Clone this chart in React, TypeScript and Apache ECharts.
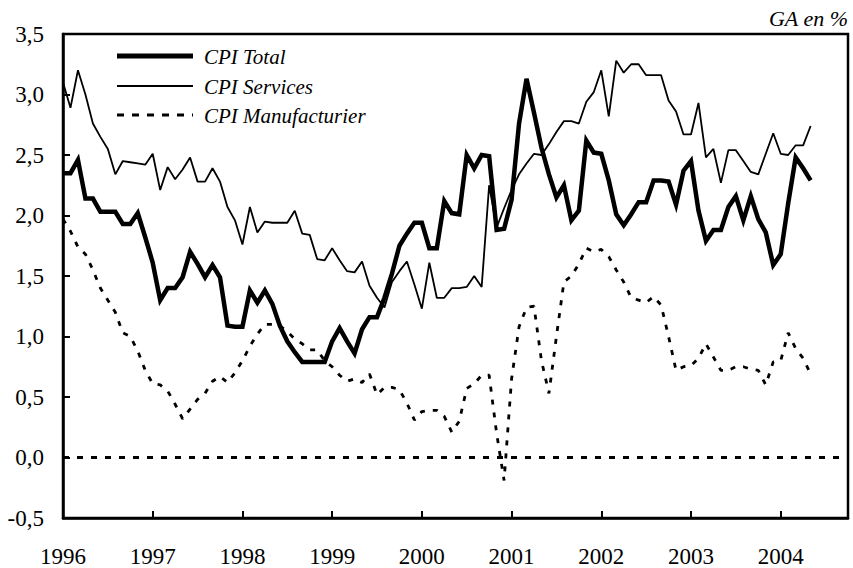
import React, { useEffect, useRef } from "react";
import * as echarts from "echarts";

const YEARS = ["1996", "1997", "1998", "1999", "2000", "2001", "2002", "2003", "2004"];
const MONTHS_SHOWN = 106; // Jan 1996 .. Oct 2004 (axis extent)

const CPI_TOTAL = [
  2.35, 2.35, 2.46, 2.14, 2.14, 2.03, 2.03, 2.03, 1.93, 1.93, 2.02, 1.82,
  1.61, 1.30, 1.40, 1.40, 1.49, 1.70, 1.60, 1.49, 1.59, 1.49, 1.09, 1.08,
  1.08, 1.38, 1.28, 1.38, 1.27, 1.09, 0.96, 0.87, 0.79, 0.79, 0.79, 0.79,
  0.96, 1.07, 0.96, 0.86, 1.06, 1.16, 1.16, 1.32, 1.52, 1.75, 1.85, 1.94,
  1.94, 1.73, 1.73, 2.12, 2.02, 2.01, 2.50, 2.39, 2.50, 2.49, 1.88, 1.89,
  2.13, 2.76, 3.13, 2.85, 2.56, 2.34, 2.15, 2.25, 1.96, 2.04, 2.62, 2.52,
  2.51, 2.29, 2.01, 1.92, 2.01, 2.11, 2.11, 2.29, 2.29, 2.28, 2.09, 2.37,
  2.45, 2.04, 1.79, 1.88, 1.88, 2.07, 2.16, 1.96, 2.16, 1.97, 1.86, 1.59,
  1.68, 2.10, 2.48, 2.39, 2.29,
];

const CPI_SERVICES = [
  3.10, 2.89, 3.20, 3.00, 2.76, 2.65, 2.55, 2.34, 2.45, 2.44, 2.43, 2.42,
  2.51, 2.21, 2.40, 2.30, 2.38, 2.48, 2.28, 2.28, 2.39, 2.28, 2.07, 1.96,
  1.76, 2.07, 1.86, 1.95, 1.94, 1.94, 1.94, 2.04, 1.85, 1.84, 1.64, 1.63,
  1.73, 1.63, 1.54, 1.53, 1.62, 1.42, 1.32, 1.24, 1.45, 1.54, 1.62, 1.43,
  1.23, 1.61, 1.32, 1.32, 1.40, 1.40, 1.41, 1.50, 1.41, 2.25, 1.90, 2.06,
  2.21, 2.34, 2.43, 2.51, 2.50, 2.59, 2.69, 2.78, 2.78, 2.76, 2.94, 3.02,
  3.20, 2.82, 3.28, 3.18, 3.25, 3.25, 3.16, 3.16, 3.16, 2.95, 2.86, 2.67,
  2.67, 2.93, 2.48, 2.55, 2.27, 2.54, 2.54, 2.45, 2.36, 2.34, 2.51, 2.68,
  2.51, 2.50, 2.58, 2.58, 2.74,
];

const CPI_MANUF = [
  1.97, 1.87, 1.74, 1.68, 1.55, 1.40, 1.30, 1.20, 1.03, 1.00, 0.88, 0.72,
  0.61, 0.60, 0.55, 0.44, 0.32, 0.40, 0.48, 0.53, 0.63, 0.67, 0.62, 0.70,
  0.80, 0.92, 1.02, 1.10, 1.10, 1.09, 1.04, 0.98, 0.94, 0.89, 0.89, 0.80,
  0.75, 0.68, 0.63, 0.65, 0.62, 0.69, 0.52, 0.58, 0.58, 0.56, 0.45, 0.31,
  0.38, 0.39, 0.39, 0.34, 0.21, 0.30, 0.57, 0.61, 0.68, 0.68, 0.20, -0.19,
  0.65, 1.08, 1.24, 1.25, 0.80, 0.53, 1.00, 1.45, 1.50, 1.60, 1.73, 1.70,
  1.72, 1.66, 1.55, 1.45, 1.32, 1.30, 1.28, 1.33, 1.26, 1.00, 0.72, 0.75,
  0.76, 0.82, 0.94, 0.83, 0.72, 0.72, 0.75, 0.75, 0.73, 0.72, 0.60, 0.79,
  0.80, 1.03, 0.90, 0.82, 0.69,
];

const SERIES_NAMES = ["CPI Total", "CPI Services", "CPI Manufacturier"];
const UNIT_LABEL = "GA en %";
const ZERO_LEVEL = 0;

const FONT = "'Liberation Serif', 'Times New Roman', serif";

const MONTHS: string[] = [];
for (const y of YEARS) {
  for (let m = 1; m <= 12 && MONTHS.length < MONTHS_SHOWN; m++) {
    MONTHS.push(`${y}-${m < 10 ? "0" + m : m}`);
  }
}
while (MONTHS.length < MONTHS_SHOWN) {
  const k = MONTHS.length - YEARS.length * 12;
  MONTHS.push(`2005-${k + 1}`);
}

const isJan = (idx: number) => idx % 12 === 0;

export default function App() {
  const ref = useRef<HTMLDivElement>(null);
  useEffect(() => {
    if (!ref.current) return;
    const chart = echarts.init(ref.current, null, { renderer: "svg" });
    const legendFont = `italic 21px ${FONT}`;
    chart.setOption({
      animation: false,
      backgroundColor: "#fff",
      grid: {
        left: 63,
        right: 5,
        top: 34,
        bottom: 50,
        show: true,
        borderColor: "#000",
        borderWidth: 2.5,
        backgroundColor: "transparent",
      },
      xAxis: {
        type: "category",
        data: MONTHS,
        boundaryGap: false,
        axisLine: { show: true, onZero: false, lineStyle: { color: "#000", width: 2.5 } },
        axisTick: {
          show: true,
          inside: true,
          length: 7,
          interval: (idx: number) => isJan(idx),
          lineStyle: { color: "#000", width: 2 },
        },
        axisLabel: {
          interval: (idx: number) => isJan(idx),
          formatter: (v: string) => v.slice(0, 4),
          color: "#000",
          fontFamily: FONT,
          fontSize: 23,
          margin: 27,
        },
        splitLine: { show: false },
      },
      yAxis: {
        type: "value",
        min: -0.5,
        max: 3.5,
        interval: 0.5,
        axisLine: { show: true, lineStyle: { color: "#000", width: 2.5 } },
        axisTick: { show: true, inside: true, length: 7, lineStyle: { color: "#000", width: 2 } },
        axisLabel: {
          formatter: (v: number) => v.toFixed(1).replace(".", ","),
          color: "#000",
          fontFamily: FONT,
          fontSize: 23,
          margin: 19,
        },
        splitLine: { show: false },
      },
      series: [
        {
          name: SERIES_NAMES[2],
          type: "line",
          data: CPI_MANUF,
          symbol: "none",
          lineStyle: { color: "#000", width: 2.8, type: [5, 8] },
          markLine: {
            silent: true,
            symbol: "none",
            label: { show: false },
            lineStyle: { color: "#000", width: 2.8, type: [6, 8] },
            data: [{ yAxis: ZERO_LEVEL }],
          },
          z: 2,
        },
        {
          name: SERIES_NAMES[1],
          type: "line",
          data: CPI_SERVICES,
          symbol: "none",
          lineStyle: { color: "#000", width: 1.8 },
          z: 3,
        },
        {
          name: SERIES_NAMES[0],
          type: "line",
          data: CPI_TOTAL,
          symbol: "none",
          lineStyle: { color: "#000", width: 4.5, join: "miter", miterLimit: 4 },
          z: 4,
        },
      ],
      graphic: [
        { type: "line", shape: { x1: 117, y1: 56, x2: 193, y2: 56 }, style: { stroke: "#000", lineWidth: 5 } },
        { type: "text", x: 204, y: 57, style: { text: SERIES_NAMES[0], font: legendFont, fill: "#000", verticalAlign: "middle" } },
        { type: "line", shape: { x1: 117, y1: 86, x2: 193, y2: 86 }, style: { stroke: "#000", lineWidth: 2 } },
        { type: "text", x: 204, y: 87, style: { text: SERIES_NAMES[1], font: legendFont, fill: "#000", verticalAlign: "middle" } },
        { type: "line", shape: { x1: 117, y1: 115, x2: 193, y2: 115 }, style: { stroke: "#000", lineWidth: 2.8, lineDash: [7, 8] } },
        { type: "text", x: 204, y: 116, style: { text: SERIES_NAMES[2], font: legendFont, fill: "#000", verticalAlign: "middle" } },
        { type: "text", x: 848, y: 18, style: { text: UNIT_LABEL, font: `italic 22px ${FONT}`, fill: "#000", textAlign: "right", verticalAlign: "middle" } },
      ],
    });
    return () => chart.dispose();
  }, []);
  return <div ref={ref} style={{ position: "fixed", left: 0, top: 0, width: 853, height: 568 }} />;
}
